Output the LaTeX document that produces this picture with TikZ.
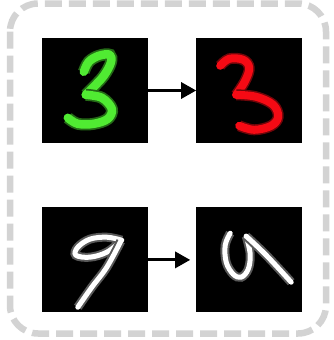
\documentclass[tikz,border=0pt]{standalone}
\usetikzlibrary{arrows.meta,positioning}
\definecolor{framegray}{RGB}{211,211,211}
\definecolor{digitgreen}{RGB}{80,235,50}
\definecolor{digitred}{RGB}{245,10,20}

\begin{document}
\begin{tikzpicture}[x=1pt,y=-1pt,>={Triangle[length=15pt,width=16pt]},
  digitbox/.style={fill=black,minimum width=106pt,minimum height=105pt,inner sep=0pt},
  stroke/.style={line cap=round,line join=round},
  greenink/.style={stroke,digitgreen,line width=8.5pt,preaction={draw,line width=12pt,digitgreen!45!black}},
  redink/.style={stroke,digitred,line width=8pt,preaction={draw,line width=11pt,digitred!45!black}},
  whiteink/.style={stroke,white,line width=5pt,preaction={draw,line width=9pt,white!35!black}}]
  \useasboundingbox (0,0) rectangle (334,340);
  % dashed frame
  \draw[framegray,line width=6.5pt,dash pattern=on 17pt off 7pt,rounded corners=28pt] (10,3.5) rectangle (326,333.5);
  % the four images
  \node[digitbox] (green3) at (95,90.5) {};
  \node[digitbox,right=48pt of green3] (red3) {};
  \node[digitbox,below=64pt of green3] (nine) {};
  \node[digitbox,right=48pt of nine] (warped) {};
  \begin{scope}[shift={(green3.north west)}]
    \draw[greenink] plot[smooth,tension=0.6] coordinates {(42,34) (47,24) (57,18) (68,17) (69,25) (62,38) (51,50) (44,57)};
    \draw[greenink] plot[smooth,tension=0.6] coordinates {(44,57) (60,60) (70,71) (66,81) (52,86) (36,86) (26,80)};
  \end{scope}
  \begin{scope}[shift={(red3.north west)}]
    \draw[redink] plot[smooth,tension=0.6] coordinates {(24,28) (33,21) (47,22) (53,30) (49,43) (40,57)};
    \draw[redink] plot[smooth,tension=0.6] coordinates {(40,57) (60,59) (77,67) (82,79) (75,88) (58,92) (43,88)};
  \end{scope}
  \begin{scope}[shift={(nine.north west)}]
    \draw[whiteink] plot[smooth,tension=0.6] coordinates {(80,33) (65,30) (48,32) (36,40) (34,48) (48,50) (65,45) (79,34)};
    \draw[whiteink] plot[smooth,tension=0.6] coordinates {(79,34) (65,60) (50,80) (36,100)};
  \end{scope}
  \begin{scope}[shift={(warped.north west)}]
    \draw[whiteink] plot[smooth,tension=0.6] coordinates {(34,26) (29,38) (30,55) (37,67) (45,70) (52,62) (54,47) (50,29)};
    \draw[whiteink] plot[smooth,tension=0.6] coordinates {(50,29) (70,48) (95,75)};
  \end{scope}
  % arrows
  \draw[->,line width=3pt] (green3.east) -- (red3.west);
  \draw[->,line width=3pt,shorten >=6pt] (nine.east) -- (warped.west);
\end{tikzpicture}
\end{document}
